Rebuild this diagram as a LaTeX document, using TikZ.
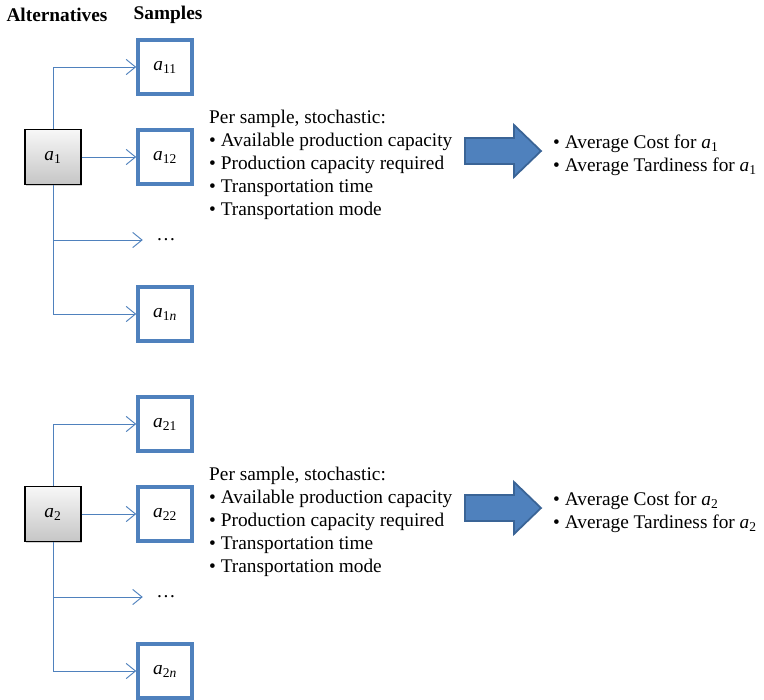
\documentclass[tikz,border=0pt]{standalone}
\usepackage{fontspec}
\setmainfont{Liberation Serif}
\usepackage{tikz}
\usetikzlibrary{arrows.meta}
\usetikzlibrary{shadows}
\definecolor{boxblue}{HTML}{4F81BD}
\definecolor{arrowedge}{HTML}{3A6496}

\newcommand{\smp}[1]{\textit{a}\textsubscript{#1}}

\tikzset{
    sample/.style = {draw = boxblue, line width = 3pt, fill = white,
        minimum size = 1.62cm, inner sep = 0pt},
    altbox/.style = {draw = black, line width = 1.1pt, top color = gray!6,
        bottom color = gray!45, minimum width = 1.68cm, minimum height = 1.65cm,
        inner sep = 0pt, drop shadow = {shadow xshift = 1.2pt,
        shadow yshift = -1.2pt, opacity = 0.35}},
    branch/.style = {boxblue, line width = 0.8pt,
        -{Straight Barb[length = 8pt, width = 13pt]}},
    bigarrow/.style = {fill = boxblue, draw = arrowedge, line width = 1.5pt,
        line join = miter},
    txt/.style = {align = left, inner sep = 0pt}
}

\begin{document}
\begin{tikzpicture}[x = 0.03cm, y = -0.03cm,
        font = \fontsize{16.5}{19.6}\selectfont]
    \useasboundingbox (0, 0) rectangle (764, 699);

    \node[font = \fontsize{16.5}{19.6}\bfseries] (althead) at (57, 15) {Alternatives};
    \node[font = \fontsize{16.5}{19.6}\bfseries] (smphead) at (168, 15) {Samples};

    \foreach \i/\y in {1/0, 2/357} {
        \node[altbox] (alt\i) at (53, 157 + \y) {\smp{\i}};
        \node[sample] (s\i1) at (165, 67 + \y) {\smp{\i1}};
        \node[sample] (s\i2) at (165, 157 + \y) {\smp{\i2}};
        \node[minimum width = 1.38cm, inner sep = 0pt] (dots\i) at (166, 240 + \y) {\dots};
        \node[sample] (s\i n) at (165, 314 + \y) {\smp{\i\textit{n}}};

        \draw[branch] (alt\i.north) |- (s\i1.west);
        \draw[branch] (alt\i.east) -- (s\i2.west);
        \draw[branch] (alt\i.south) |- (dots\i.west);
        \draw[branch] (alt\i.south) |- (s\i n.west);

        \node[txt, anchor = north west] (per\i) at (209, 110 + \y)
            {Per sample, stochastic:\\
             \textbullet\ Available production capacity\\
             \textbullet\ Production capacity required\\
             \textbullet\ Transportation time\\
             \textbullet\ Transportation mode};

        \coordinate (tail\i) at (465, 151 + \y);
        \draw[bigarrow] (tail\i) ++(0, -13) -- ++(49, 0) -- ++(0, -13)
            -- ++(27, 26) -- ++(-27, 26) -- ++(0, -13) -- ++(-49, 0) -- cycle;

        \node[txt, anchor = west] (res\i) at (553, 155 + \y)
            {\textbullet\ Average Cost for \smp{\i}\\
             \textbullet\ Average Tardiness for \smp{\i}};
    }
\end{tikzpicture}
\end{document}
